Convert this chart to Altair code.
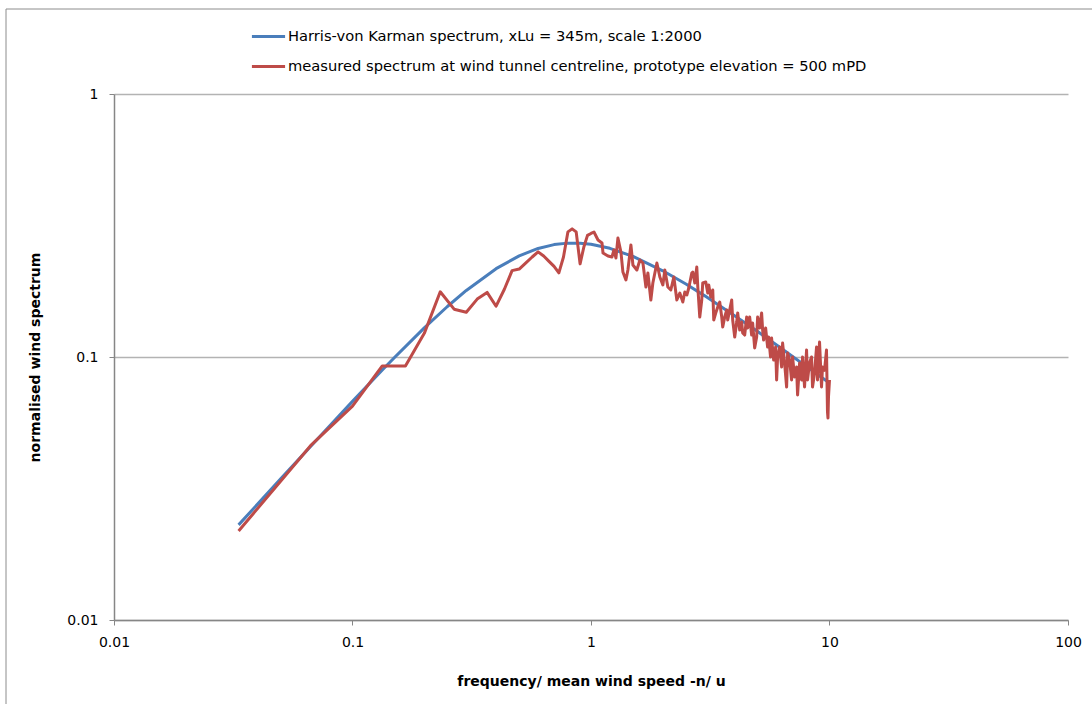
import altair as alt
import pandas as pd

# ---- data ----
SERIES_BLUE = "Harris-von Karman spectrum, xLu = 345m, scale 1:2000"
SERIES_RED = "measured spectrum at wind tunnel centreline, prototype  elevation = 500 mPD"

blue_x = [0.0333, 0.05, 0.0667, 0.1, 0.1333, 0.15, 0.2, 0.25, 0.3, 0.4, 0.5, 0.6,
          0.7, 0.8, 0.9, 1.0, 1.2, 1.5, 2.0, 2.5, 3.0, 4.0, 5.0, 6.0, 7.0, 8.0, 9.0, 10.0]
blue_y = [0.0230, 0.0344, 0.0457, 0.0678, 0.0892, 0.0996, 0.1290, 0.1556, 0.1791, 0.2167,
          0.2425, 0.2587, 0.2675, 0.2710, 0.2709, 0.2683, 0.2590, 0.2412, 0.2127, 0.1894,
          0.1708, 0.1436, 0.1249, 0.1111, 0.1005, 0.0921, 0.0853, 0.0796]

red_x = [0.0333, 0.0667, 0.1, 0.1333, 0.1667, 0.2, 0.2333, 0.2667, 0.3, 0.3333, 0.3667,
         0.4, 0.4333, 0.4667, 0.5, 0.5333, 0.5667, 0.6, 0.6333, 0.6667, 0.7, 0.7333, 0.7667,
         0.8, 0.8333, 0.8667, 0.9, 0.9333, 0.9667, 1.0, 1.029, 1.070, 1.112, 1.123, 1.178,
         1.224, 1.248, 1.272, 1.297, 1.335, 1.361, 1.401, 1.428, 1.470, 1.499, 1.557, 1.603,
         1.651, 1.699, 1.732, 1.782, 1.817, 1.889, 1.944, 2.001, 2.040, 2.100, 2.161, 2.225,
         2.290, 2.357, 2.427, 2.474, 2.522, 2.570, 2.646, 2.672, 2.724, 2.777, 2.804, 2.858,
         2.913, 2.941, 3.028, 3.087, 3.117, 3.178, 3.240, 3.271, 3.334, 3.400, 3.465, 3.533,
         3.567, 3.637, 3.707, 3.743, 3.815, 3.890, 3.927, 4.005, 4.083, 4.122, 4.202, 4.283,
         4.325, 4.410, 4.495, 4.538, 4.627, 4.716, 4.762, 4.855, 4.950, 4.996, 5.094, 5.193,
         5.244, 5.293, 5.397, 5.502, 5.556, 5.661, 5.716, 5.832, 5.945, 6.002, 6.060, 6.178,
         6.299, 6.359, 6.483, 6.610, 6.674, 6.803, 6.935, 7.002, 7.139, 7.277, 7.348, 7.491,
         7.637, 7.709, 7.860, 8.013, 8.090, 8.247, 8.408, 8.489, 8.655, 8.824, 8.909, 9.083,
         9.259, 9.348, 9.530, 9.714, 9.760, 9.808, 9.855, 9.903, 10.0]
red_y = [0.0218, 0.0460, 0.0650, 0.0925, 0.0925, 0.123, 0.177, 0.152, 0.148, 0.166, 0.176,
         0.156, 0.181, 0.213, 0.216, 0.228, 0.240, 0.251, 0.242, 0.231, 0.221, 0.209, 0.240,
         0.299, 0.307, 0.299, 0.226, 0.262, 0.290, 0.295, 0.2987, 0.2786, 0.2714, 0.2485, 0.2421,
         0.2400, 0.2552, 0.2379, 0.2835, 0.2507, 0.2104, 0.1963, 0.2142, 0.2667, 0.2238, 0.2142,
         0.2338, 0.2277, 0.1846, 0.2086, 0.1647, 0.1912, 0.2277, 0.2014, 0.1879, 0.2142, 0.1846,
         0.1798, 0.2014, 0.1647, 0.1751, 0.1618, 0.1767, 0.1721, 0.1830, 0.2086, 0.2104, 0.1912,
         0.2199, 0.1846, 0.1419, 0.1647, 0.1912, 0.1929, 0.1751, 0.1879, 0.1691, 0.1798, 0.1382,
         0.1470, 0.1549, 0.1618, 0.1419, 0.1300, 0.1419, 0.1509, 0.1382, 0.1509, 0.1647, 0.1382,
         0.1191, 0.1358, 0.1470, 0.1266, 0.1358, 0.1234, 0.1212, 0.1419, 0.1289, 0.1419, 0.1212,
         0.1346, 0.1082, 0.1191, 0.1419, 0.1289, 0.1470, 0.1266, 0.1160, 0.1289, 0.1091, 0.1191,
         0.1000, 0.1181, 0.0974, 0.1091, 0.0818, 0.1000, 0.1091, 0.0916, 0.1130, 0.0949, 0.0769,
         0.1035, 0.0974, 0.0818, 0.1000, 0.0839, 0.0916, 0.0717, 0.0949, 0.0818, 0.1000, 0.0769,
         0.1063, 0.0818, 0.0949, 0.1000, 0.0769, 0.0869, 0.1091, 0.0818, 0.1140, 0.0769, 0.0916,
         0.0890, 0.1063, 0.0818, 0.0618, 0.0586, 0.0705, 0.0818]

x_ticks = [0.01, 0.1, 1, 10, 100]
y_ticks = [0.01, 0.1, 1]

# ---- build table ----
df = pd.concat([
    pd.DataFrame({"x": blue_x, "y": blue_y, "series": SERIES_BLUE, "order": range(len(blue_x))}),
    pd.DataFrame({"x": red_x, "y": red_y, "series": SERIES_RED, "order": range(len(red_x))}),
], ignore_index=True)

FONT = "DejaVu Sans"
AXIS_GRAY = "#868686"

color_scale = alt.Scale(domain=[SERIES_BLUE, SERIES_RED], range=["#4a7ebb", "#be4b48"])

lines = alt.Chart(df).mark_line(strokeWidth=3, strokeJoin="round", clip=True).encode(
    x=alt.X("x:Q",
            scale=alt.Scale(type="log", domain=[0.01, 100]),
            axis=alt.Axis(values=x_ticks, format="~g", grid=False, labelFlush=False,
                          title="frequency/ mean wind speed -n/ u",
                          titleY=61, titleBaseline="middle",
                          labelPadding=10, tickSize=5)),
    y=alt.Y("y:Q",
            scale=alt.Scale(type="log", domain=[0.01, 1]),
            axis=alt.Axis(values=y_ticks, format="~g", grid=True, labelFlush=False,
                          title="normalised wind spectrum",
                          titleX=-79, titleY=263, titleAngle=-90,
                          titleAlign="center", titleBaseline="middle",
                          labelPadding=11, tickSize=5)),
    color=alt.Color("series:N", scale=color_scale, sort=[SERIES_BLUE, SERIES_RED],
                    legend=alt.Legend(title=None, orient="none", legendX=136, legendY=-76,
                                      symbolType="stroke", symbolSize=1100,
                                      symbolStrokeWidth=3, labelFontSize=14.7,
                                      labelFont=FONT, labelColor="#000000",
                                      labelOffset=1, rowPadding=4, padding=0,
                                      labelLimit=800)),
    detail="series:N",
    order="order:Q",
)

border = alt.Chart(alt.Data(values=[{"a": 1}])).mark_rect(
    fill=None, stroke="#8c8c8c", strokeWidth=1, clip=False
).encode(
    x=alt.value(-108), x2=alt.value(1000), y=alt.value(-85), y2=alt.value(620)
)

chart = alt.layer(border, lines).properties(
    width=954, height=526,
    autosize=alt.AutoSizeParams(type="none"),
    padding={"left": 114, "top": 94, "right": 24, "bottom": 84},
    background="white",
).configure_view(
    stroke=None
).configure_axis(
    labelFont=FONT, titleFont=FONT, labelFontSize=14, titleFontSize=14,
    labelColor="#000000", titleColor="#000000", titleFontWeight="bold",
    domainColor=AXIS_GRAY, tickColor=AXIS_GRAY, domainWidth=1.5, tickWidth=1,
    gridColor="#b3b3b3", gridWidth=1.5,
)

chart.save("out.html", embed_options={"renderer": "svg", "actions": False})
